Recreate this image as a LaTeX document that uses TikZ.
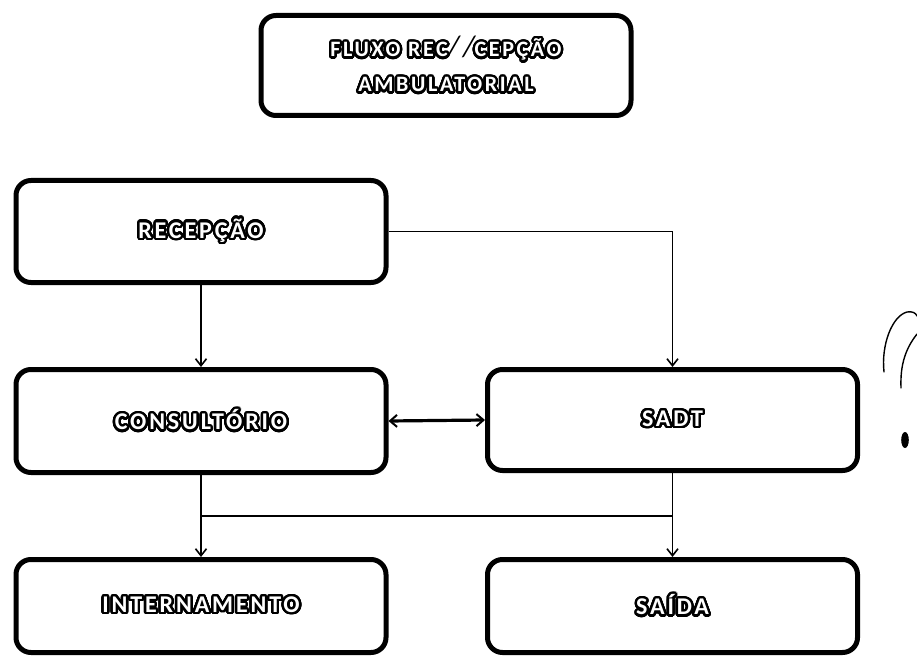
\documentclass[tikz,border=0pt]{standalone}
\usepackage{fontspec}
\setmainfont{Carlito}
\newfontfamily\lblfont[LetterSpace=12]{Carlito}
\usepackage[copies]{contour}
\contourlength{2.4pt}
\contournumber{32}
\usetikzlibrary{arrows.meta,calc}

% white lettering with a heavy black halo
\newcommand{\halo}[1]{\textcolor{white}{\contour{black}{#1}}}

\tikzset{
  flowbox/.style={draw=black, line width=5pt, rounded corners=15pt,
    minimum width=370pt, inner sep=0pt, align=center,
    font=\lblfont\bfseries\fontsize{24}{26}\selectfont},
  wire/.style={line width=1.8pt},
  link/.style={wire, -{Straight Barb[length=7pt,width=11pt,line width=1.6pt]}},
  biglink/.style={line width=3.2pt,
    {Straight Barb[length=7pt,width=12pt,line width=2pt]}-{Straight Barb[length=7pt,width=12pt,line width=2pt]}},
  hand/.style={line width=1.4pt, line cap=round, line join=round}
}

\begin{document}
\begin{tikzpicture}[x=1pt,y=-1pt]
\useasboundingbox[fill=white] (0,0) rectangle (917,660);

% title
\node[flowbox, minimum height=100pt, font=\lblfont\bfseries\fontsize{22}{35}\selectfont]
  (title) at (446,65.5)
  {\halo{FLUXO REC}{\fontsize{30}{30}\selectfont\itshape\mdseries//}\halo{CEPÇÃO}\\\halo{AMBULATORIAL}};

% process boxes
\node[flowbox, minimum height=102pt] (recep)  at (201,231.5) {\halo{RECEPÇÃO}};
\node[flowbox, minimum height=103pt] (cons)   at (201,421)   {\halo{CONSULTÓRIO}};
\node[flowbox, minimum height=101pt] (sadt)   at (672.5,420) {\halo{SADT}};
\node[flowbox, minimum height=93pt]  (intern) at (201,606)   {\halo{INTERNAMENTO}};
\node[flowbox, minimum height=93pt]  (saida)  at (672.5,606) {\halo{SAÍDA}};

% connectors
\draw[link] (recep.south) -- (cons.north);
\draw[link] (recep.east) -| (sadt.north);
\draw[biglink] (cons.east) -- (sadt.west);
\draw[link] (cons.south) -- (intern.north);
\draw[link] (sadt.south) -- (saida.north);
\coordinate (jl) at ($(cons.south)!0.5!(intern.north)$);
\coordinate (jr) at (jl -| sadt.south);
\draw[wire] (jl) -- (jr);

% handwritten question mark in the margin
\draw[hand] (884,372) .. controls (881,345) and (892,316) .. (907,312)
            .. controls (912,311) and (916,313) .. (917,316);
\draw[hand] (917,334) .. controls (906,348) and (900,364) .. (901,388);
\fill (905,440) ellipse (3.8pt and 8pt);
\end{tikzpicture}
\end{document}
